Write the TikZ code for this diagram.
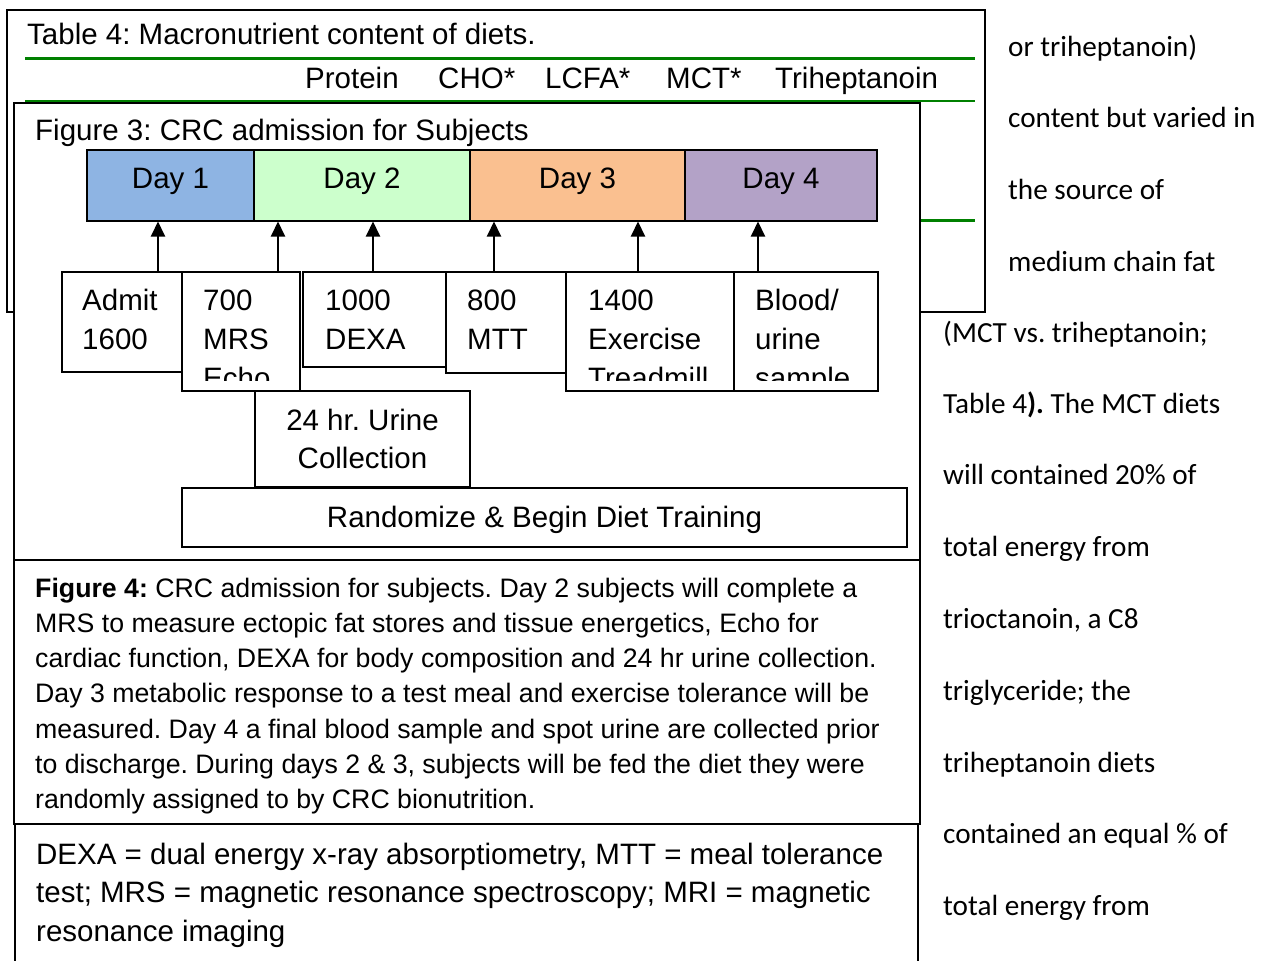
\documentclass[tikz,border=0pt]{standalone}
\usepackage{fontspec}
\setmainfont{Liberation Sans}
\newfontfamily\calfont{Carlito}
\usetikzlibrary{arrows.meta}
\definecolor{dayA}{HTML}{8EB4E3}
\definecolor{dayB}{HTML}{CCFFCC}
\definecolor{dayC}{HTML}{FAC090}
\definecolor{dayD}{HTML}{B3A2C7}
\definecolor{tgreen}{HTML}{008000}
\frenchspacing
\begin{document}
\begin{tikzpicture}[x=1pt,y=-1pt,
  frame/.style={draw, line width=1.8pt, fill=white, inner sep=0pt, outer sep=0pt, anchor=north west},
  daybox/.style={draw, line width=2.4pt, inner sep=0pt, outer sep=0pt, anchor=north west, minimum height=71pt},
  evbox/.style={draw, line width=1.8pt, fill=white, inner sep=0pt, outer sep=0pt, anchor=north west},
  lbl/.style={anchor=base west, inner sep=0pt, font=\fontsize{29.5}{35}\selectfont},
  clbl/.style={anchor=base, inner sep=0pt, font=\fontsize{29.5}{35}\selectfont},
  captxt/.style={anchor=base west, inner sep=0pt, font=\fontsize{26.7}{35}\selectfont},
  side/.style={anchor=base west, inner sep=0pt, font=\calfont\fontsize{29.2}{35}\selectfont},
  gline/.style={draw=tgreen, line width=3pt},
  arr/.style={line width=2pt, -{Triangle[width=14pt,length=15pt]}}
]
\clip (0,0) rectangle (1270,961);
\fill[white] (0,0) rectangle (1270,961);

% Table 4 (behind)
\node[frame, minimum width=978pt, minimum height=302pt] (table) at (7,10) {};
\draw[gline] (25,58.5) -- (975,58.5);
\draw[gline, line width=2pt] (25,101) -- (975,101);
\draw[gline] (25,220) -- (975,220);
\node[lbl] (ttitle) at (27,45) {Table 4: Macronutrient content of diets.};
\node[lbl] (hprot) at (305,88) {Protein};
\node[lbl] (hcho) at (438,88) {CHO*};
\node[lbl] (hlcfa) at (545,88) {LCFA*};
\node[lbl] (hmct) at (666,88) {MCT*};
\node[lbl] (htri) at (775,88) {Triheptanoin};

% Figure 3
\node[frame, minimum width=906pt, minimum height=457pt] (fig) at (14,103) {};
\node[lbl] (ftitle) at (35,140) {Figure 3: CRC admission for Subjects};

\node[daybox, fill=dayA, minimum width=167pt] (day1) at (87,150) {};
\node[daybox, fill=dayB, minimum width=216pt] (day2) at (254,150) {};
\node[daybox, fill=dayC, minimum width=215pt] (day3) at (470,150) {};
\node[daybox, fill=dayD, minimum width=192pt] (day4) at (685,150) {};
\node[clbl] (d1t) at (170.5,188.5) {Day 1};
\node[clbl] (d2t) at (362,188.5) {Day 2};
\node[clbl] (d3t) at (577.5,188.5) {Day 3};
\node[clbl] (d4t) at (781,188.5) {Day 4};

\node[evbox, minimum width=121pt, minimum height=100pt] (admit) at (62,272) {};
\node[evbox, minimum width=118pt, minimum height=119pt] (b700) at (182,272) {};
\node[evbox, minimum width=143pt, minimum height=95pt] (b1000) at (303,272) {};
\node[evbox, minimum width=120pt, minimum height=101pt] (b800) at (446,272) {};
\node[evbox, minimum width=168pt, minimum height=119pt] (b1400) at (566,272) {};
\node[evbox, minimum width=144pt, minimum height=119pt] (blood) at (734,272) {};
\node[evbox, minimum width=215pt, minimum height=96pt] (urine) at (255,391) {};
\node[evbox, minimum width=725pt, minimum height=59pt] (rand) at (182,488) {};

\node[lbl] (admitA) at (82,310) {Admit};
\node[lbl] (admitB) at (82,349) {1600};
\node[lbl] (b700A) at (203,310) {700};
\node[lbl] (b700B) at (203,349) {MRS};
\node[lbl] (b1000A) at (325,310) {1000};
\node[lbl] (b1000B) at (325,349) {DEXA};
\node[lbl] (b800A) at (467,310) {800};
\node[lbl] (b800B) at (467,349) {MTT};
\node[lbl] (b1400A) at (588,310) {1400};
\node[lbl] (b1400B) at (588,349) {Exercise};
\node[lbl] (bloodA) at (755,310) {Blood/};
\node[lbl] (bloodB) at (755,349) {urine};
\begin{scope}
  \clip (182,272) rectangle (880,380);
  \node[lbl] (b700C) at (203,388) {Echo};
  \node[lbl] (b1400C) at (588,388) {Treadmill};
  \node[lbl] (bloodC) at (755,388) {sample};
\end{scope}
\node[clbl] (urineA) at (362.5,430) {24 hr. Urine};
\node[clbl] (urineB) at (362.5,468) {Collection};
\node[clbl] (randT) at (544.5,527) {Randomize \& Begin Diet Training};

\coordinate (x1) at (158,0);
\coordinate (x2) at (278,0);
\coordinate (x3) at (373,0);
\coordinate (x4) at (494,0);
\coordinate (x5) at (638,0);
\coordinate (x6) at (758,0);
\draw[arr] (admit.north -| x1) -- ([yshift=-0.5pt]day1.south -| x1);
\draw[arr] (b700.north -| x2) -- ([yshift=-0.5pt]day2.south -| x2);
\draw[arr] (b1000.north -| x3) -- ([yshift=-0.5pt]day2.south -| x3);
\draw[arr] (b800.north -| x4) -- ([yshift=-0.5pt]day3.south -| x4);
\draw[arr] (b1400.north -| x5) -- ([yshift=-0.5pt]day3.south -| x5);
\draw[arr] (blood.north -| x6) -- ([yshift=-0.5pt]day4.south -| x6);

% Caption (Figure 4)
\node[frame, minimum width=906pt, minimum height=264pt] (capbox) at (14,560) {};
\node[captxt] (c1) at (35,597) {\textbf{Figure 4:} CRC admission for subjects. Day 2 subjects will complete a};
\node[captxt] (c2) at (35,632) {MRS to measure ectopic fat stores and tissue energetics, Echo for};
\node[captxt] (c3) at (35,667) {cardiac function, DEXA for body composition and 24 hr urine collection.};
\node[captxt] (c4) at (35,702) {Day 3 metabolic response to a test meal and exercise tolerance will be};
\node[captxt] (c5) at (35,738) {measured. Day 4 a final blood sample and spot urine are collected prior};
\node[captxt] (c6) at (35,773) {to discharge. During days 2 \& 3, subjects will be fed the diet they were};
\node[captxt] (c7) at (35,808) {randomly assigned to by CRC bionutrition.};

% Abbreviations
\node[frame, minimum width=903pt, minimum height=200pt] (abbr) at (15,824) {};
\node[lbl] (a1) at (36,864) {DEXA = dual energy x-ray absorptiometry, MTT = meal tolerance};
\node[lbl] (a2) at (36,902) {test; MRS = magnetic resonance spectroscopy; MRI = magnetic};
\node[lbl] (a3) at (36,941) {resonance imaging};

% Body text at right
\node[side] (s1) at (1008,56) {or triheptanoin)};
\node[side] (s2) at (1008,127) {content but varied in};
\node[side] (s3) at (1008,199) {the source of};
\node[side] (s4) at (1008,271) {medium chain fat};
\node[side] (s5) at (943,342) {(MCT vs. triheptanoin;};
\node[side] (s6) at (943,413) {Table 4\textbf{).} The MCT diets};
\node[side] (s7) at (943,484) {will contained 20\% of};
\node[side] (s8) at (943,556) {total energy from};
\node[side] (s9) at (943,628) {trioctanoin, a C8};
\node[side] (s10) at (943,700) {triglyceride; the};
\node[side] (s11) at (943,772) {triheptanoin diets};
\node[side] (s12) at (943,843) {contained an equal \% of};
\node[side] (s13) at (943,915) {total energy from};
\end{tikzpicture}
\end{document}
